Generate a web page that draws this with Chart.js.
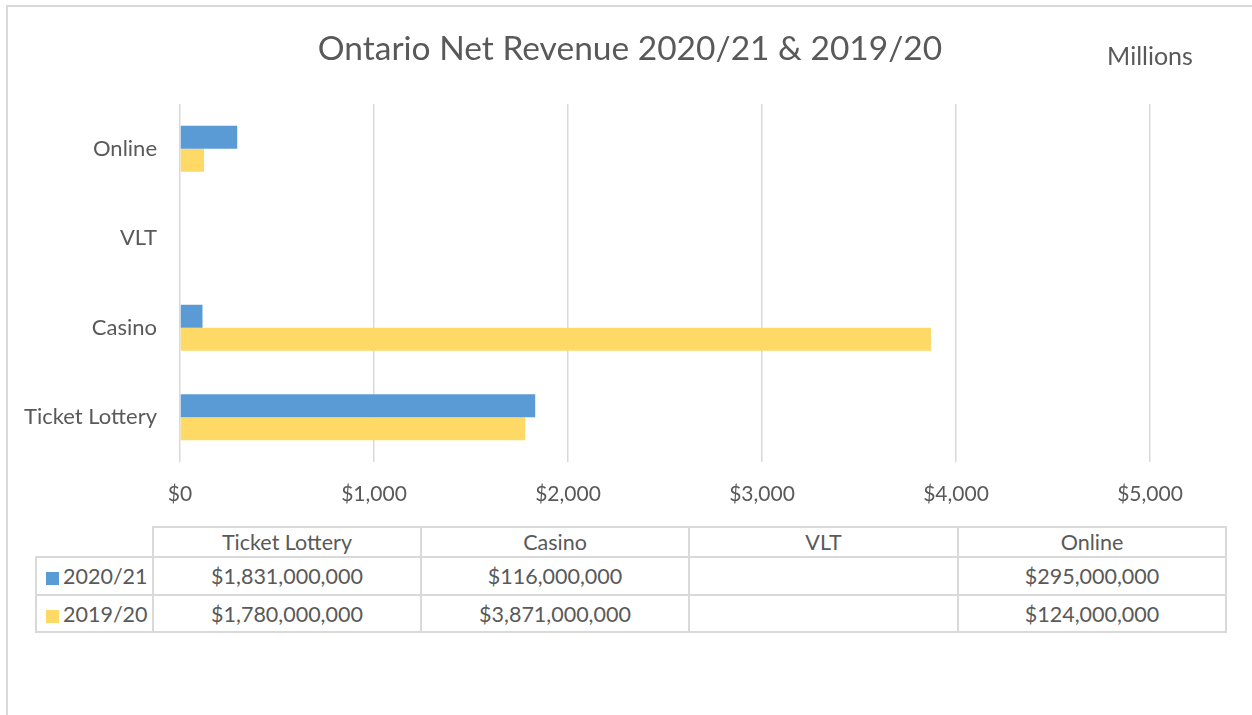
<!DOCTYPE html>
<html>
<head>
<meta charset="utf-8">
<script src="https://cdn.jsdelivr.net/npm/chart.js@4/dist/chart.umd.min.js"></script>
<style>
  html, body { margin: 0; padding: 0; background: #fff; }
  body { width: 1252px; height: 715px; position: relative; overflow: hidden; font-family: Lato, "Open Sans", sans-serif; color: #595959; }
  #frame { position: absolute; left: 6px; top: 5px; width: 1400px; height: 800px; border-left: 2px solid #d9d9d9; border-top: 2px solid #d9d9d9; }
  #c { position: absolute; left: 0; top: 0; }
  table { position: absolute; left: 35px; top: 526px; border-collapse: collapse; font-size: 21.5px; color: #595959; table-layout: fixed; }
  td { border: 2px solid #d9d9d9; text-align: center; padding: 0; white-space: nowrap; }
  td.corner { border-top: none; border-left: none; }
  tr.h td { height: 28px; }
  tr.r1 td { height: 36px; }
  tr.r2 td { height: 35px; }
  td.leg { text-align: left; padding-left: 9px; }
  .key { display: inline-block; width: 13px; height: 13px; margin-right: 4px; vertical-align: -1px; }
</style>
</head>
<body>
<div id="frame"></div>
<canvas id="c" width="1252" height="520"></canvas>
<table id="tbl"></table>
<script>
const title = 'Ontario Net Revenue 2020/21 & 2019/20';
const unitLabel = 'Millions';
const categories = ['Ticket Lottery', 'Casino', 'VLT', 'Online'];
const seriesNames = ['2020/21', '2019/20'];
const values2021 = [1831, 116, null, 295];   // millions
const values1920 = [1780, 3871, null, 124];  // millions
const xTicks = [0, 1000, 2000, 3000, 4000, 5000];
const colors = ['#5B9BD5', '#FFD966'];

const labelsTopDown = categories.slice().reverse();
const d2021 = values2021.slice().reverse();
const d1920 = values1920.slice().reverse();

const FONT = 'Lato, "Open Sans", sans-serif';
const fmtTick = v => '$' + Number(v).toLocaleString('en-US');
const fmtFull = v => v == null ? '' : '$' + (v * 1000000).toLocaleString('en-US');

const textPlugin = {
  id: 'headerText',
  afterDraw(chart) {
    const ctx = chart.ctx;
    ctx.save();
    ctx.fillStyle = '#595959';
    ctx.textAlign = 'center';
    ctx.textBaseline = 'middle';
    ctx.font = '33.5px ' + FONT;
    ctx.fillText(title, 630, 49);
    const x = chart.scales.x.getPixelForValue(xTicks[xTicks.length - 1]);
    ctx.font = '25px ' + FONT;
    ctx.fillText(unitLabel, x, 57);
    ctx.restore();
  }
};

new Chart(document.getElementById('c'), {
  type: 'bar',
  data: {
    labels: labelsTopDown,
    datasets: [
      { label: seriesNames[0], data: d2021, backgroundColor: colors[0] },
      { label: seriesNames[1], data: d1920, backgroundColor: colors[1] }
    ]
  },
  options: {
    indexAxis: 'y',
    responsive: false,
    animation: false,
    events: [],
    layout: { padding: { left: 0, right: 102, top: 104, bottom: 0 } },
    datasets: { bar: { categoryPercentage: 0.514, barPercentage: 1.0 } },
    plugins: {
      legend: { display: false },
      tooltip: { enabled: false },
      title: { display: false }
    },
    scales: {
      x: {
        min: 0, max: 5000,
        afterBuildTicks(scale) { scale.ticks = xTicks.map(v => ({ value: v })); },
        afterFit(scale) { scale.height = 58; },
        grid: { color: '#d9d9d9', lineWidth: 1.5, drawTicks: false },
        border: { display: false },
        ticks: { color: '#595959', font: { family: FONT, size: 21 }, padding: 20, callback: v => fmtTick(v), maxRotation: 0 }
      },
      y: {
        afterFit(scale) { scale.width = 180; },
        grid: { display: false, drawTicks: false },
        border: { display: false },
        ticks: { color: '#595959', font: { family: FONT, size: 22 }, padding: 23 }
      }
    }
  },
  plugins: [textPlugin]
});

// data table under the chart
const tbl = document.getElementById('tbl');
const colW = [115, 266, 266, 267, 266];
let html = '<colgroup>' + colW.map(w => '<col style="width:' + (w + 2) + 'px">').join('') + '</colgroup>';
html += '<tr class="h"><td class="corner"></td>';
categories.forEach(c => { html += '<td>' + c + '</td>'; });
html += '</tr>';
[values2021, values1920].forEach((vals, r) => {
  html += '<tr class="r' + (r + 1) + '"><td class="leg"><span class="key" style="background:' + colors[r] + '"></span>' + seriesNames[r] + '</td>';
  vals.forEach(v => { html += '<td>' + fmtFull(v) + '</td>'; });
  html += '</tr>';
});
tbl.innerHTML = html;
tbl.style.width = colW.reduce((a, b) => a + b + 2, 0) + 'px';
</script>
</body>
</html>
